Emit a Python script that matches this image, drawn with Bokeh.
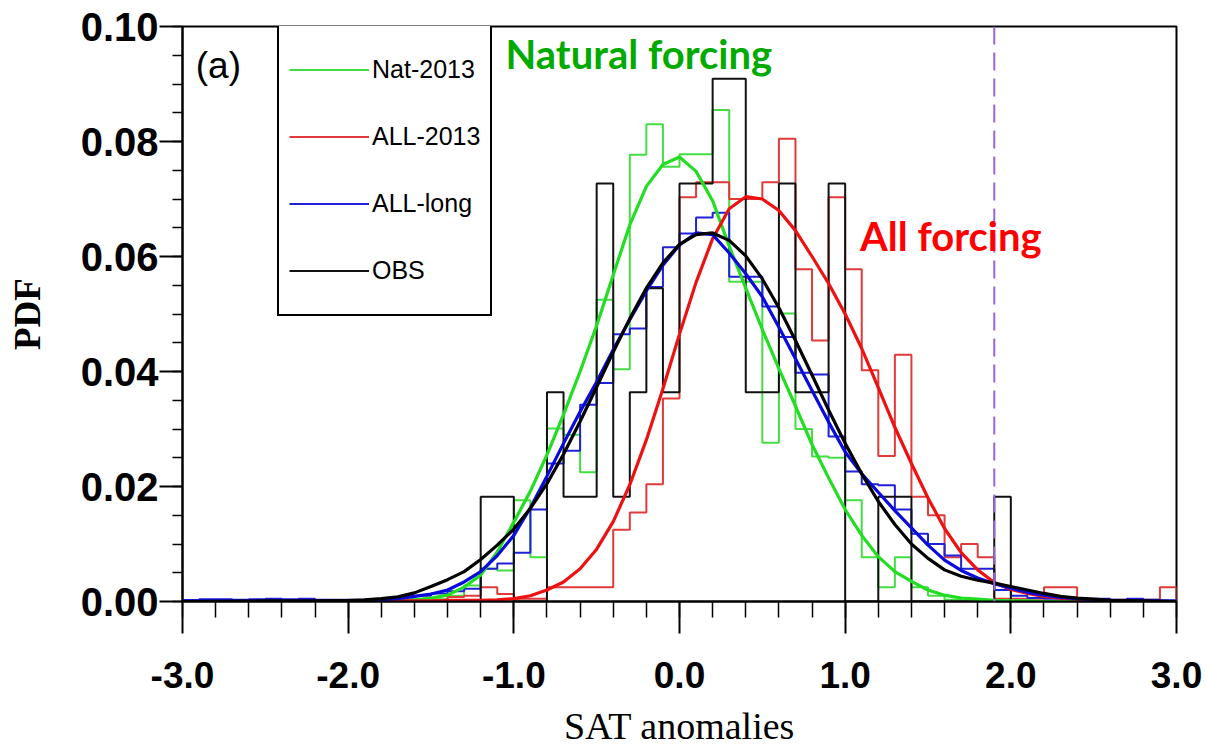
from bokeh.plotting import figure
from bokeh.models import (FixedTicker, Span, Label, Legend, LegendItem, Range1d,
                          NumeralTickFormatter)
from bokeh.embed import file_html
from bokeh.resources import INLINE

# ---------------- data ----------------
bin_left = [-3.0, -2.9, -2.8, -2.7, -2.6, -2.5, -2.4, -2.3, -2.2, -2.1,
            -2.0, -1.9, -1.8, -1.7, -1.6, -1.5, -1.4, -1.3, -1.2, -1.1,
            -1.0, -0.9, -0.8, -0.7, -0.6, -0.5, -0.4, -0.3, -0.2, -0.1,
            0.0, 0.1, 0.2, 0.3, 0.4, 0.5, 0.6, 0.7, 0.8, 0.9,
            1.0, 1.1, 1.2, 1.3, 1.4, 1.5, 1.6, 1.7, 1.8, 1.9,
            2.0, 2.1, 2.2, 2.3, 2.4, 2.5, 2.6, 2.7, 2.8, 2.9]
bin_width = 0.1

hist_nat = [0, 0, 0, 0, 0, 0, 0, 0, 0, 0,
            0, 0, 0, 0, 0.0003, 0.0004, 0.0010, 0.0028, 0.0057, 0.0054,
            0.0176, 0.0077, 0.0301, 0.0290, 0.0225, 0.0525, 0.0404, 0.0777, 0.0830, 0.0756,
            0.0778, 0.0778, 0.0855, 0.0556, 0.0556, 0.0276, 0.0501, 0.0300, 0.0252, 0.0250,
            0.0176, 0.0077, 0.0025, 0.0077, 0.0025, 0.0010, 0.0003, 0, 0, 0,
            0, 0, 0, 0, 0, 0, 0, 0, 0, 0]
hist_all2013 = [0, 0, 0, 0, 0, 0, 0, 0, 0, 0,
                0, 0.0003, 0, 0, 0, 0, 0.0008, 0.0010, 0.0025, 0.0013,
                0.0005, 0.0005, 0.0025, 0.0025, 0.0025, 0.0025, 0.0125, 0.0155, 0.0204, 0.0353,
                0.0703, 0.0729, 0.0729, 0.0700, 0.0700, 0.0729, 0.0805, 0.0578, 0.0454, 0.0703,
                0.0578, 0.0402, 0.0253, 0.0429, 0.0182, 0.0150, 0.0077, 0.0100, 0.0077, 0.0005,
                0.0005, 0.0005, 0.0025, 0.0025, 0.0005, 0.0003, 0.0003, 0.0003, 0.0003, 0.0025]
hist_alllong = [0.0002, 0.0004, 0.0004, 0.0003, 0.0004, 0.0005, 0.0004, 0.0005, 0.0003, 0.0003,
                0.0002, 0.0003, 0.0005, 0.0007, 0.0010, 0.0014, 0.0018, 0.0022, 0.0057, 0.0066,
                0.0085, 0.0160, 0.0240, 0.0262, 0.0342, 0.0380, 0.0465, 0.0475, 0.0547, 0.0616,
                0.0640, 0.0668, 0.0676, 0.0565, 0.0565, 0.0513, 0.0460, 0.0398, 0.0395, 0.0287,
                0.0226, 0.0204, 0.0202, 0.0160, 0.0118, 0.0100, 0.0080, 0.0057, 0.0057, 0.0020,
                0.0010, 0.0006, 0.0005, 0.0004, 0.0003, 0.0005, 0.0003, 0.0005, 0.0003, 0.0002]
hist_obs = [0, 0, 0, 0, 0, 0, 0, 0, 0, 0,
            0, 0, 0, 0, 0, 0, 0, 0, 0.0182, 0.0182,
            0, 0, 0.0364, 0.0182, 0.0182, 0.0727, 0.0182, 0.0364, 0.0545, 0.0364,
            0.0727, 0.0727, 0.0909, 0.0909, 0.0364, 0.0364, 0.0727, 0.0364, 0.0364, 0.0727,
            0, 0, 0.0182, 0.0182, 0, 0, 0, 0, 0, 0.0182,
            0, 0, 0, 0, 0, 0, 0, 0, 0, 0]

curve_x = [-3.0, -2.5, -2.2, -2.0, -1.9, -1.8, -1.7, -1.6, -1.5, -1.4, -1.3, -1.2, -1.1,
           -1.0, -0.9, -0.8, -0.7, -0.6, -0.5, -0.4, -0.3, -0.2, -0.1,
           0.0, 0.1, 0.2, 0.3, 0.4, 0.5, 0.6, 0.7, 0.8, 0.9,
           1.0, 1.1, 1.2, 1.3, 1.4, 1.5, 1.6, 1.7, 1.8, 1.9,
           2.0, 2.1, 2.2, 2.3, 2.4, 2.5, 2.6, 2.8, 3.0]
curve_nat = [0.0, 0.0, 0.0, 0.0001, 0.0001, 0.0002, 0.0002, 0.0003, 0.0006, 0.0011, 0.0025, 0.0046, 0.0086,
             0.0138, 0.0192, 0.0255, 0.0325, 0.0400, 0.0480, 0.0568, 0.0655, 0.0722, 0.0760,
             0.0773, 0.0748, 0.0697, 0.0618, 0.0545, 0.0473, 0.0405, 0.0340, 0.0273, 0.0215,
             0.0160, 0.0115, 0.0078, 0.0052, 0.0035, 0.0020, 0.0011, 0.0006, 0.0004, 0.0002,
             0.0001, 0.0001, 0.0, 0.0, 0.0, 0.0, 0.0, 0.0, 0.0]
curve_all2013 = [0.0, 0.0, 0.0, 0.0001, 0.0001, 0.0001, 0.0001, 0.0001, 0.0001, 0.0002, 0.0002, 0.0002, 0.0003,
                 0.0005, 0.0010, 0.0020, 0.0034, 0.0057, 0.0091, 0.0139, 0.0203, 0.0281, 0.0370,
                 0.0465, 0.0555, 0.0631, 0.0683, 0.0704, 0.0700, 0.0680, 0.0645, 0.0600, 0.0553,
                 0.0500, 0.0440, 0.0372, 0.0303, 0.0240, 0.0180, 0.0127, 0.0085, 0.0055, 0.0033,
                 0.0021, 0.0014, 0.0009, 0.0006, 0.0004, 0.0002, 0.0001, 0.0, 0.0]
curve_alllong = [0.0001, 0.0001, 0.0001, 0.0001, 0.0002, 0.0003, 0.0005, 0.0009, 0.0013, 0.0020, 0.0034, 0.0052, 0.0080,
                 0.0115, 0.0163, 0.0218, 0.0275, 0.0330, 0.0382, 0.0438, 0.0490, 0.0540, 0.0585,
                 0.0620, 0.0641, 0.0638, 0.0606, 0.0570, 0.0530, 0.0477, 0.0422, 0.0367, 0.0312,
                 0.0260, 0.0222, 0.0190, 0.0158, 0.0128, 0.0098, 0.0072, 0.0054, 0.0041, 0.0031,
                 0.0023, 0.0016, 0.0011, 0.0007, 0.0005, 0.0003, 0.0002, 0.0001, 0.0]
curve_obs = [0.0, 0.0001, 0.0001, 0.0002, 0.0003, 0.0005, 0.0008, 0.0015, 0.0026, 0.0038, 0.0052, 0.0073, 0.0098,
             0.0126, 0.0162, 0.0205, 0.0256, 0.0313, 0.0373, 0.0434, 0.0492, 0.0545, 0.0589,
             0.0621, 0.0638, 0.0641, 0.0628, 0.0601, 0.0561, 0.0511, 0.0454, 0.0394, 0.0333,
             0.0275, 0.0222, 0.0174, 0.0134, 0.0100, 0.0075, 0.0055, 0.0044, 0.0037, 0.0032,
             0.0026, 0.0020, 0.0014, 0.0009, 0.0006, 0.0004, 0.0002, 0.0001, 0.0]

obs_2013 = 1.9
series_names = ["Nat-2013", "ALL-2013", "ALL-long", "OBS"]
x_ticks = [-3.0, -2.0, -1.0, 0.0, 1.0, 2.0, 3.0]
y_ticks = [0.0, 0.02, 0.04, 0.06, 0.08, 0.10]

# ---------------- figure ----------------
p = figure(width=1206, height=750, output_backend="svg", toolbar_location=None,
           x_range=Range1d(-3.0, 3.0), y_range=Range1d(0.0, 0.10),
           min_border_left=182, min_border_right=30, min_border_top=26, min_border_bottom=149)
p.background_fill_color = "white"
p.border_fill_color = "white"
p.outline_line_color = "black"
p.outline_line_width = 2
p.outline_line_alpha = 1.0
p.grid.visible = False


def step_outline(vals):
    xs = [bin_left[0]]
    ys = [0.0]
    for left, v in zip(bin_left, vals):
        xs += [left, left + bin_width]
        ys += [v, v]
    xs.append(bin_left[-1] + bin_width)
    ys.append(0.0)
    return xs, ys

hist_cols = ["#44DD44", "#E03A3A", "#2020D8", "#111111"]
curve_cols = ["#22DD22", "#EE1111", "#0A0ADD", "#000000"]
hists = [hist_nat, hist_all2013, hist_alllong, hist_obs]
curves = [curve_nat, curve_all2013, curve_alllong, curve_obs]

hist_renderers = []
for vals, col in zip(hists, hist_cols):
    xs, ys = step_outline(vals)
    r = p.line(xs, ys, line_color=col, line_width=2)
    hist_renderers.append(r)

for vals, col in zip(curves, curve_cols):
    p.line(curve_x, vals, line_color=col, line_width=3.2)

p.add_layout(Span(location=obs_2013, dimension="height", line_color="#9966DD",
                  line_width=2, line_dash="18 8"))

# ---------------- axes ----------------
xa = p.xaxis[0]
xa.ticker = FixedTicker(ticks=x_ticks,
                        minor_ticks=[-3.0 + 0.2 * k for k in range(31)])
xa.formatter = NumeralTickFormatter(format="0.0")
ya = p.yaxis[0]
ya.ticker = FixedTicker(ticks=y_ticks,
                        minor_ticks=[0.005 * k for k in range(21)])
ya.formatter = NumeralTickFormatter(format="0.00")

for ax in (xa, ya):
    ax.axis_line_width = 2
    ax.major_tick_line_width = 2
    ax.minor_tick_line_width = 1.5
    ax.major_tick_in = 0
    ax.minor_tick_in = 0
    ax.major_label_text_font = "Liberation Sans"
    ax.major_label_text_font_style = "bold"
    ax.major_label_text_color = "black"
    ax.axis_label_text_font = "Liberation Serif"
    ax.axis_label_text_color = "black"

xa.major_tick_out = 32
xa.minor_tick_out = 16
xa.major_label_standoff = 28
xa.major_label_text_font_size = "37px"
xa.axis_label = "SAT anomalies"
xa.axis_label_text_font_size = "38px"
xa.axis_label_text_font_style = "normal"
xa.axis_label_standoff = 14

ya.major_tick_out = 23
ya.minor_tick_out = 10
ya.major_label_standoff = 1
ya.major_label_text_font_size = "40px"
ya.axis_label = "PDF"
ya.axis_label_text_font_size = "37px"
ya.axis_label_text_font_style = "bold"
ya.axis_label_standoff = 30

# ---------------- legend ----------------
legend = Legend(items=[LegendItem(label=n, renderers=[r]) for n, r in zip(series_names, hist_renderers)],
                orientation="vertical",
                glyph_width=80, glyph_height=67, spacing=0, padding=10,
                label_standoff=3, label_width=108, margin=0,
                label_text_font="Liberation Sans", label_text_font_size="25px",
                label_text_color="black",
                border_line_color="black", border_line_width=2, border_line_alpha=1.0,
                background_fill_color="white", background_fill_alpha=1.0)
legend.location = (95, 285)
p.add_layout(legend)

# ---------------- annotations ----------------
p.add_layout(Label(x=-2.92, y=0.0933, text="(a)", text_font="Liberation Sans",
                   text_font_size="37px", text_baseline="middle", text_color="black"))
p.add_layout(Label(x=-1.05, y=0.0953, text="Natural forcing", text_font="Lato",
                   text_font_size="40px", text_font_style="bold", text_baseline="middle",
                   text_color="#00AA00"))
p.add_layout(Label(x=1.09, y=0.0635, text="All forcing", text_font="Lato",
                   text_font_size="40px", text_font_style="bold", text_baseline="middle",
                   text_color="#FF0000"))

open("out.html", "w").write(file_html(p, INLINE))
